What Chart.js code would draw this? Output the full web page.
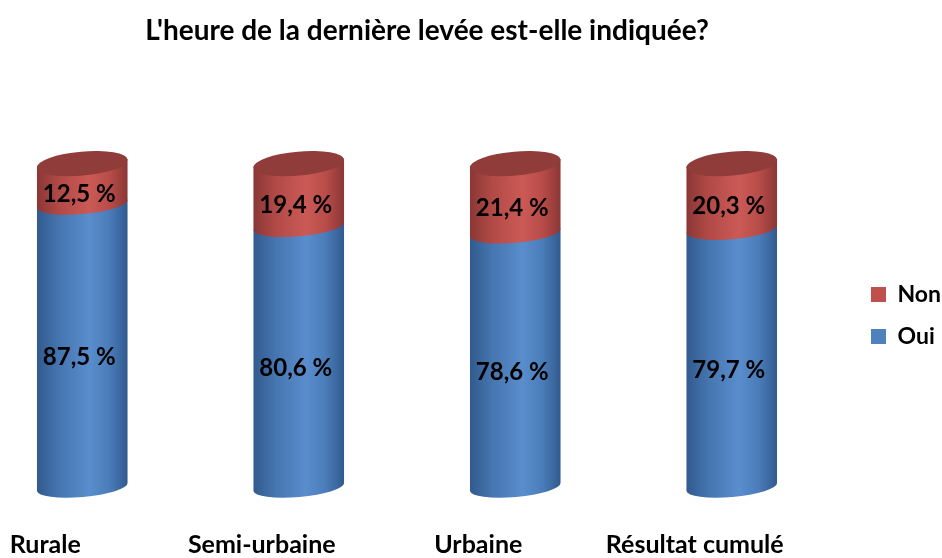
<!DOCTYPE html>
<html><head><meta charset="utf-8">
<style>html,body{margin:0;padding:0;background:#fff;overflow:hidden}canvas{display:block}</style>
<script src="https://cdn.jsdelivr.net/npm/chart.js@4"></script>
</head><body>
<div style="width:968px;height:558px;margin-left:-26px"><canvas id="c"></canvas></div>
<script>
const titleText = "L'heure de la dernière levée est-elle indiquée?";
const categories = ["Rurale", "Semi-urbaine", "Urbaine", "Résultat cumulé"];
const oui = [87.5, 80.6, 78.6, 79.7];
const non = [12.5, 19.4, 21.4, 20.3];
const FONT = "Lato, 'Open Sans', sans-serif";

const shades = {
  Oui: {stops:['#315a8e','#4676b0','#5a8dcd','#4a7cb9','#315a8e'], top:'#4a78b0'},
  Non: {stops:['#8a3735','#b24a47','#cb5a56','#b84c49','#8a3735'], top:'#8f3c3a'}
};
const TILT = -0.088;
const cylinders = {
  id:'cylinders',
  beforeDatasetDraw(){ return false; },
  afterDatasetsDraw(chart){
    const ctx = chart.ctx;
    const tiers = chart.data.datasets.length;
    chart.data.datasets.forEach((ds,i)=>{
      const meta = chart.getDatasetMeta(i), s = shades[ds.label];
      meta.data.forEach(el=>{
        const a = el.width/2, x = el.x, top = el.y, bot = el.base;
        const b = 10;
        const g = ctx.createLinearGradient(x-a,0,x+a,0);
        s.stops.forEach((c,k)=>g.addColorStop([0,.25,.58,.8,1][k],c));
        ctx.save();
        ctx.beginPath();
        ctx.ellipse(x,bot,a,b,TILT,Math.PI,0,true);
        ctx.ellipse(x,top,a,b,TILT,0,Math.PI,true);
        ctx.closePath();
        ctx.fillStyle = g; ctx.fill();
        if(i===tiers-1){
          ctx.beginPath();
          ctx.ellipse(x,top,a,12,TILT,0,Math.PI*2);
          ctx.fillStyle = s.top; ctx.fill();
        }
        ctx.restore();
      });
    });
    chart.data.datasets.forEach((ds,i)=>{
      const drop = i===0 ? 12 : 10;
      chart.getDatasetMeta(i).data.forEach((el,k)=>{
        ctx.save();
        ctx.font = "bold 24px "+FONT;
        ctx.fillStyle = '#000';
        ctx.textAlign='center'; ctx.textBaseline='middle';
        const txt = ds.data[k].toFixed(1).replace('.',',')+' %';
        ctx.fillText(txt, el.x-3, (el.y+el.base)/2+drop);
        ctx.restore();
      });
    });
  }
};
const placement = {
  id:'placement',
  afterLayout(chart){
    const t = chart.titleBlock; t.left = 0; t.right = 906;
    const l = chart.legend, h = l.bottom-l.top, w = l.right-l.left;
    l.left = 878; l.right = 878+w; l.top = 264; l.bottom = 264+h;
  }
};
new Chart(document.getElementById('c'),{
  type:'bar',
  data:{labels:categories,datasets:[
    {label:'Oui',data:oui,backgroundColor:'#4F81BD',stack:'s'},
    {label:'Non',data:non,backgroundColor:'#C0504D',stack:'s'}
  ]},
  options:{
    responsive:true,maintainAspectRatio:false,animation:false,
    layout:{padding:{left:0,right:102,top:0,bottom:0}},
    datasets:{bar:{categoryPercentage:1,barPercentage:0.42}},
    plugins:{
      tooltip:{enabled:false},
      title:{display:true,text:titleText,color:'#000',font:{family:FONT,size:28,weight:'bold'},padding:{top:14,bottom:116}},
      legend:{position:'chartArea',align:'start',reverse:true,
        labels:{boxWidth:15,boxHeight:15,padding:19,color:'#000',font:{family:FONT,size:23,weight:'bold'}}}
    },
    scales:{
      x:{stacked:true,grid:{display:false,tickLength:45},border:{display:false},
         ticks:{color:'#000',padding:-2,labelOffset:-37,maxRotation:0,autoSkip:false,font:{family:FONT,size:25,weight:'bold'}}},
      y:{stacked:true,display:false,min:0,max:100}
    }
  },
  plugins:[cylinders,placement]
});
</script>
</body></html>
